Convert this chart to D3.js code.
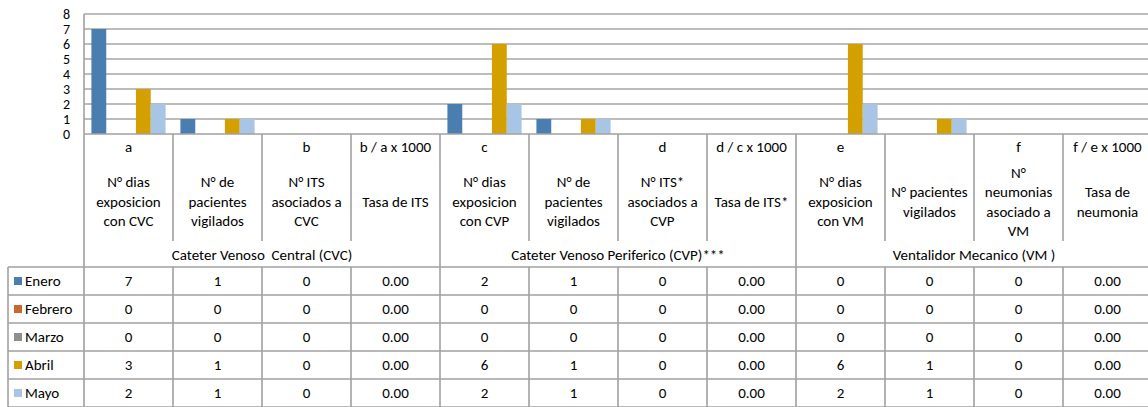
<!DOCTYPE html>
<html>
<head>
<meta charset="utf-8">
<script src="https://cdn.jsdelivr.net/npm/d3@7"></script>
<style>
  body { margin: 0; background: #fff; overflow: hidden; }
  svg { display: block; font-family: Carlito, "Open Sans", sans-serif; }
  text { white-space: pre; }
</style>
</head>
<body>
<svg id="chart" width="1148" height="407"></svg>
<script>
// chart values
var months = ["Enero", "Febrero", "Marzo", "Abril", "Mayo"];
var letters = ["a", "", "b", "b / a x 1000", "c", "", "d", "d / c x 1000", "e", "", "f", "f / e x 1000"];
var descriptions = [
  ["N° dias", "exposicion", "con CVC"],
  ["N° de", "pacientes", "vigilados"],
  ["N° ITS", "asociados a", "CVC"],
  ["Tasa de ITS"],
  ["N° dias", "exposicion", "con CVP"],
  ["N° de", "pacientes", "vigilados"],
  ["N° ITS*", "asociados a", "CVP"],
  ["Tasa de ITS*"],
  ["N° dias", "exposicion", "con VM"],
  ["N° pacientes", "vigilados"],
  ["N°", "neumonias", "asociado a", "VM"],
  ["Tasa de", "neumonia"]
];
var groups = ["Cateter Venoso  Central (CVC)", "Cateter Venoso Periferico (CVP)***", "Ventalidor Mecanico (VM )"];
var enero   = [7, 1, 0, 0, 2, 1, 0, 0, 0, 0, 0, 0];
var febrero = [0, 0, 0, 0, 0, 0, 0, 0, 0, 0, 0, 0];
var marzo   = [0, 0, 0, 0, 0, 0, 0, 0, 0, 0, 0, 0];
var abril   = [3, 1, 0, 0, 6, 1, 0, 0, 6, 1, 0, 0];
var mayo    = [2, 1, 0, 0, 2, 1, 0, 0, 2, 1, 0, 0];
var rateCols = [3, 7, 11];
var yTicks = [0, 1, 2, 3, 4, 5, 6, 7, 8];
var colors = ["#4a7eb1", "#c9672d", "#8e8e8e", "#d4a000", "#a9c5e5"];

var seriesValues = [enero, febrero, marzo, abril, mayo];
var cols = d3.range(letters.length);

var svg = d3.select("#chart");
var left = 84, step = 89, right = left + step * cols.length;
var plotTop = 14, plotBottom = 134;
var headBottom = 241, groupBottom = 267, rowH = 28, tableLeft = 8;
var lineCol = "#a0a0a0";
var fs = "15px";

var x = d3.scaleBand().domain(cols).range([left, right]);
var xs = d3.scaleBand().domain(months).range([step / 12, step * 11 / 12]);
var y = d3.scaleLinear().domain([0, 8]).range([plotBottom, plotTop]);

// gridlines
svg.append("g").selectAll("line").data(yTicks.filter(function(t) { return t > 0; })).join("line")
  .attr("x1", left).attr("x2", right)
  .attr("y1", function(d) { return y(d); }).attr("y2", function(d) { return y(d); })
  .style("stroke", "#a6a6a6").style("stroke-width", 1.6);

// y axis labels
var yAxis = d3.axisLeft(y).tickValues(yTicks).tickSize(0).tickPadding(14);
var gy = svg.append("g").attr("transform", "translate(" + left + ",0)").call(yAxis);
gy.select(".domain").remove();
gy.selectAll("text").style("font-size", "14px").style("fill", "#000")
  .style("font-family", "Carlito, 'Open Sans', sans-serif");

// bars
seriesValues.forEach(function(vals, si) {
  svg.append("g").selectAll("rect").data(vals).join("rect")
    .attr("x", function(d, i) { return x(i) + xs(months[si]); })
    .attr("width", xs.bandwidth())
    .attr("y", function(d) { return y(d); })
    .attr("height", function(d) { return y(0) - y(d); })
    .style("fill", colors[si]);
});

// axis lines
svg.append("line").attr("x1", left).attr("x2", right).attr("y1", plotBottom).attr("y2", plotBottom)
  .style("stroke", lineCol).style("stroke-width", 1.6);
svg.append("line").attr("x1", left).attr("x2", left).attr("y1", plotTop).attr("y2", plotBottom)
  .style("stroke", lineCol).style("stroke-width", 1.6);

// data table: header verticals
var bounds = d3.range(cols.length + 1).map(function(i) { return left + i * step; });
svg.append("g").selectAll("line").data(bounds).join("line")
  .attr("x1", function(d) { return d; }).attr("x2", function(d) { return d; })
  .attr("y1", plotBottom)
  .attr("y2", function(d, i) { return i % 4 === 0 ? groupBottom : headBottom; })
  .style("stroke", lineCol).style("stroke-width", 1.6);

// letters row
svg.append("g").selectAll("text").data(letters).join("text")
  .attr("x", function(d, i) { return x(i) + step / 2; })
  .attr("y", 147).attr("dy", "0.35em")
  .attr("text-anchor", "middle").style("font-size", fs)
  .text(function(d) { return d; });

// description lines
descriptions.forEach(function(lines, i) {
  svg.append("g").selectAll("text").data(lines).join("text")
    .attr("x", x(i) + step / 2)
    .attr("y", function(d, j) { return 201.7 + (j - (lines.length - 1) / 2) * 19.5; })
    .attr("dy", "0.35em")
    .attr("text-anchor", "middle").style("font-size", fs)
    .text(function(d) { return d; });
});

// group labels
svg.append("g").selectAll("text").data(groups).join("text")
  .attr("x", function(d, i) { return left + (i * 4 + 2) * step; })
  .attr("y", 255).attr("dy", "0.35em")
  .attr("text-anchor", "middle").style("font-size", fs)
  .text(function(d) { return d; });

// data rows
var rowTop = function(i) { return groupBottom + i * rowH; };
svg.append("g").selectAll("line").data(d3.range(months.length + 1)).join("line")
  .attr("x1", tableLeft).attr("x2", right)
  .attr("y1", function(d) { return rowTop(d); }).attr("y2", function(d) { return rowTop(d); })
  .style("stroke", lineCol).style("stroke-width", 1.6);
svg.append("g").selectAll("line").data([tableLeft].concat(bounds)).join("line")
  .attr("x1", function(d) { return d; }).attr("x2", function(d) { return d; })
  .attr("y1", groupBottom).attr("y2", rowTop(months.length))
  .style("stroke", lineCol).style("stroke-width", 1.6);

months.forEach(function(m, si) {
  var cy = rowTop(si) + rowH / 2;
  svg.append("rect").attr("x", 14).attr("y", cy - 4).attr("width", 8).attr("height", 8)
    .style("fill", colors[si]);
  svg.append("text").attr("x", 25).attr("y", cy).attr("dy", "0.35em")
    .style("font-size", fs).text(m);
  svg.append("g").selectAll("text").data(seriesValues[si]).join("text")
    .attr("x", function(d, i) { return x(i) + step / 2; })
    .attr("y", cy).attr("dy", "0.35em")
    .attr("text-anchor", "middle").style("font-size", fs)
    .text(function(d, i) { return rateCols.indexOf(i) >= 0 ? d.toFixed(2) : d; });
});
</script>
</body>
</html>
